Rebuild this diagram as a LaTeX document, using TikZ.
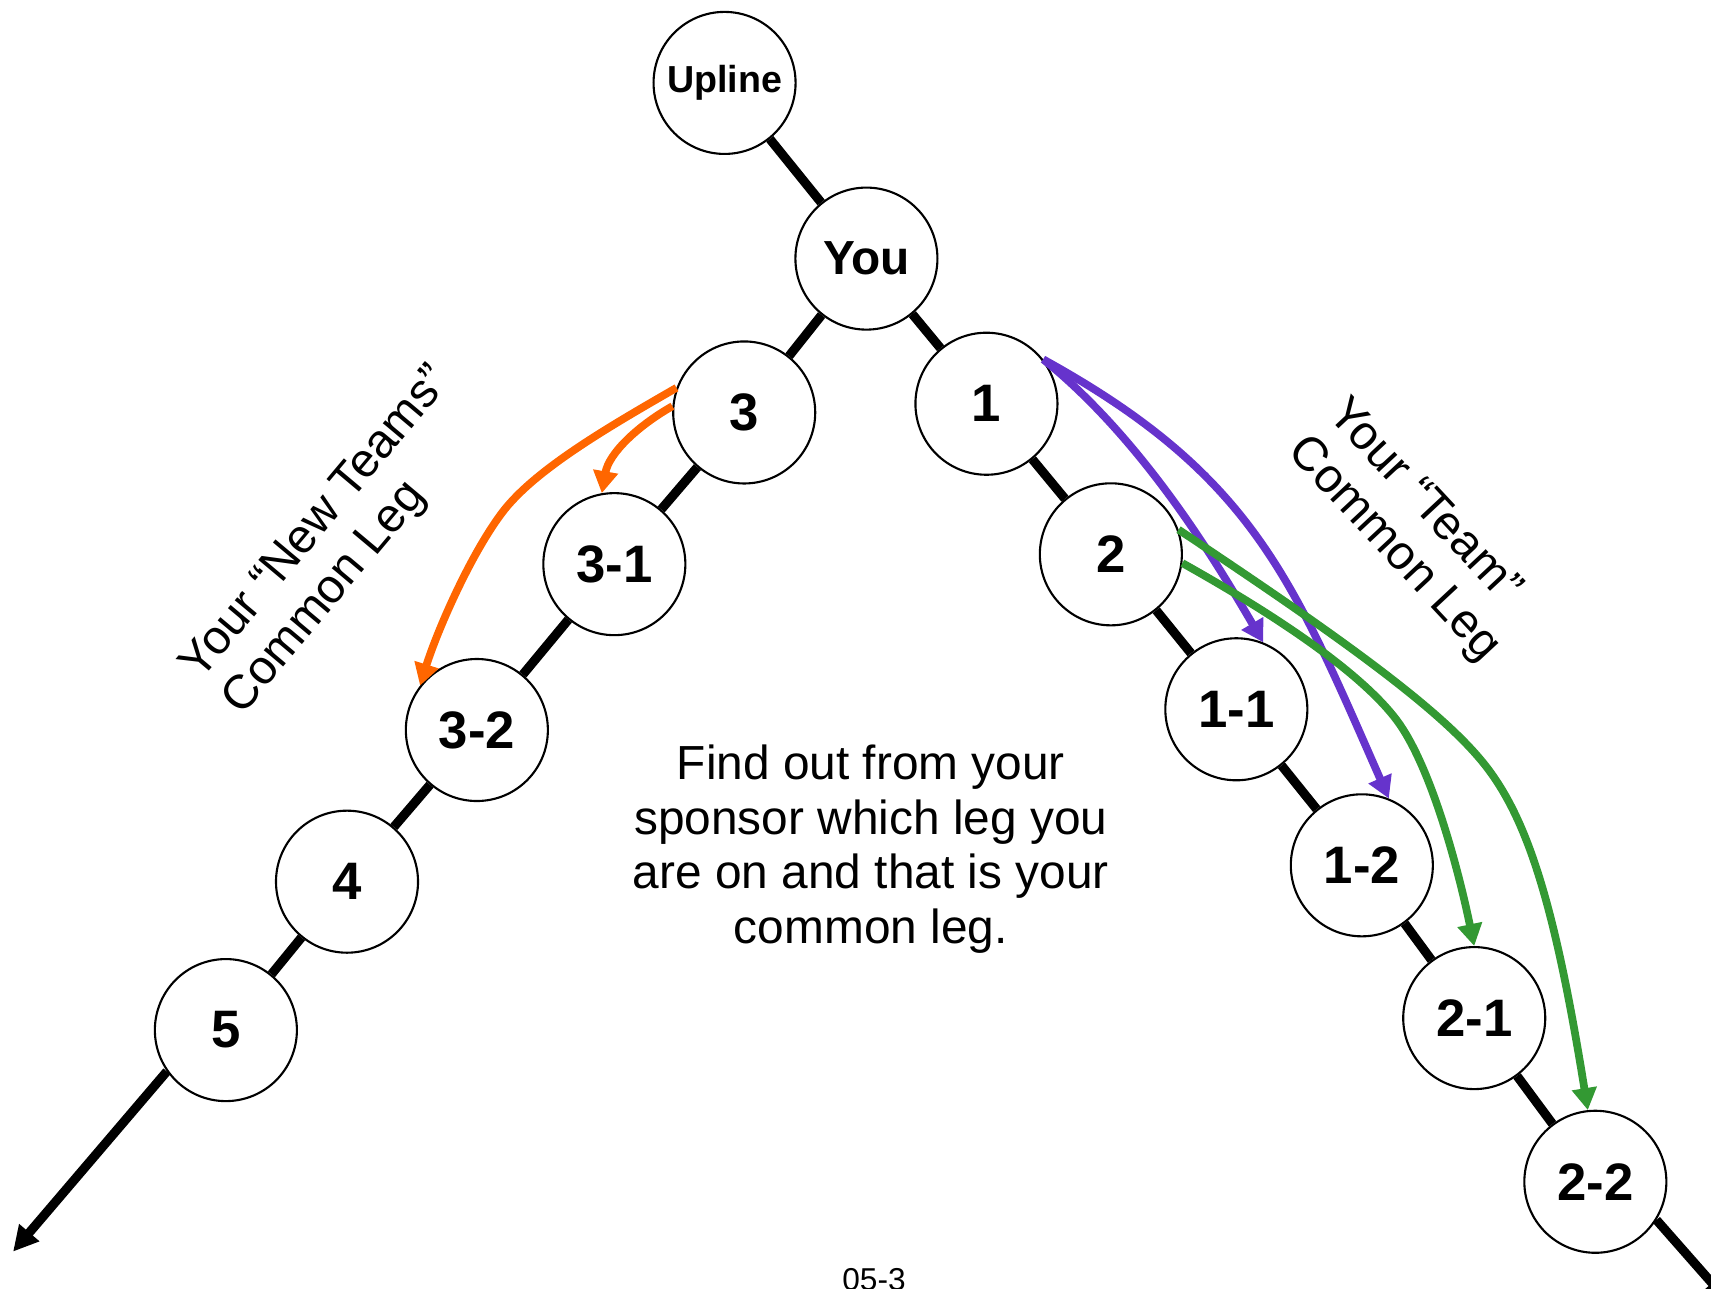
\documentclass[tikz,border=0pt]{standalone}
\usepackage{fontspec}
\setmainfont{Liberation Sans}
\usetikzlibrary{arrows.meta}
\definecolor{newteam}{RGB}{255,102,0}
\definecolor{teamone}{RGB}{102,51,204}
\definecolor{teamtwo}{RGB}{51,153,51}

\begin{document}
\begin{tikzpicture}[
    x=0.1091mm, y=-0.1091mm,
    member/.style={circle, draw, line width=0.6pt, fill=white, minimum size=14.2mm, inner sep=0pt, font=\bfseries\fontsize{15}{18}\selectfont},
    leg/.style={line width=2.6pt},
    tail/.style={leg, -{Triangle[length=2.5mm, width=2.5mm]}},
    move/.style={line width=2.2pt, -{Triangle[length=2.2mm, width=2.4mm]}},
    caption/.style={font=\fontsize{13.6}{15.5}\selectfont, align=left},
]
\useasboundingbox (0,0) rectangle (1568,1181);

% Top of the tree
\node[member, font=\bfseries\fontsize{10.7}{12}\selectfont] (upline) at (664,76) {Upline};
\node[member, font=\bfseries\fontsize{13.6}{16}\selectfont] (you) at (794,237) {You};

% --- LEFT LEG ---
\node[member] (n3) at (682,378) {3};
\node[member] (n31) at (563,517) {3-1};
\node[member] (n32) at (437,669) {3-2};
\node[member] (n4) at (318,808) {4};
\node[member] (n5) at (207,944) {5};
\coordinate (leftend) at (12,1147);

% --- RIGHT LEG ---
\node[member] (n1) at (904,370) {1};
\node[member] (n2) at (1018,508) {2};
\node[member] (n11) at (1133,650) {1-1};
\node[member] (n12) at (1248,793) {1-2};
\node[member] (n21) at (1351,933) {2-1};
\node[member] (n22) at (1462,1083) {2-2};
\coordinate (rightend) at (1584,1193);

% Legs
\draw[leg] (upline) -- (you);
\draw[leg] (you) -- (n3);
\draw[leg] (n3) -- (n31);
\draw[leg] (n31) -- (n32);
\draw[leg] (n32) -- (n4);
\draw[leg] (n4) -- (n5);
\draw[tail] (n5.215) -- (leftend);
\draw[leg] (you) -- (n1);
\draw[leg] (n1) -- (n2);
\draw[leg] (n2) -- (n11);
\draw[leg] (n11) -- (n12);
\draw[leg] (n12) -- (n21);
\draw[leg] (n21) -- (n22);
\draw[tail] (n22.-32) -- (rightend);

% Moves of the new teams
\draw[move, newteam] (n3.160) .. controls (560,390) and (490,430) .. (460,470) .. controls (430,510) and (400,580) .. (n32.142);
\draw[move, newteam] (n3.175) .. controls (585,390) and (558,415) .. (n31.100);

% Moves of the team
\draw[move, teamone] (n1.38) .. controls (1050,405) and (1118,521) .. (n11.68);
\draw[move, teamone] (n1.38) .. controls (1148,435) and (1184,530) .. (n12.68);
\draw[move, teamtwo] (n2.20) .. controls (1230,585) and (1320,650) .. (1360,700) .. controls (1400,750) and (1425,830) .. (n22.96);
\draw[move, teamtwo] (n2.-7) .. controls (1180,570) and (1250,620) .. (1280,660) .. controls (1310,700) and (1335,790) .. (n21.90);

% Texts
\node[caption, rotate=50] (newlabel) at (310,496) {Your “New Teams”\\Common Leg};
\node[caption, rotate=-47] (teamlabel) at (1295,487) {Your “Team”\\Common Leg};
\node[caption, align=center] (hint) at (798,778) {Find out from your\\sponsor which leg you\\are on and that is your\\common leg.};
\node[font=\fontsize{9}{10}\selectfont, anchor=base] (pagenum) at (801,1183) {05-3};

\end{tikzpicture}
\end{document}
